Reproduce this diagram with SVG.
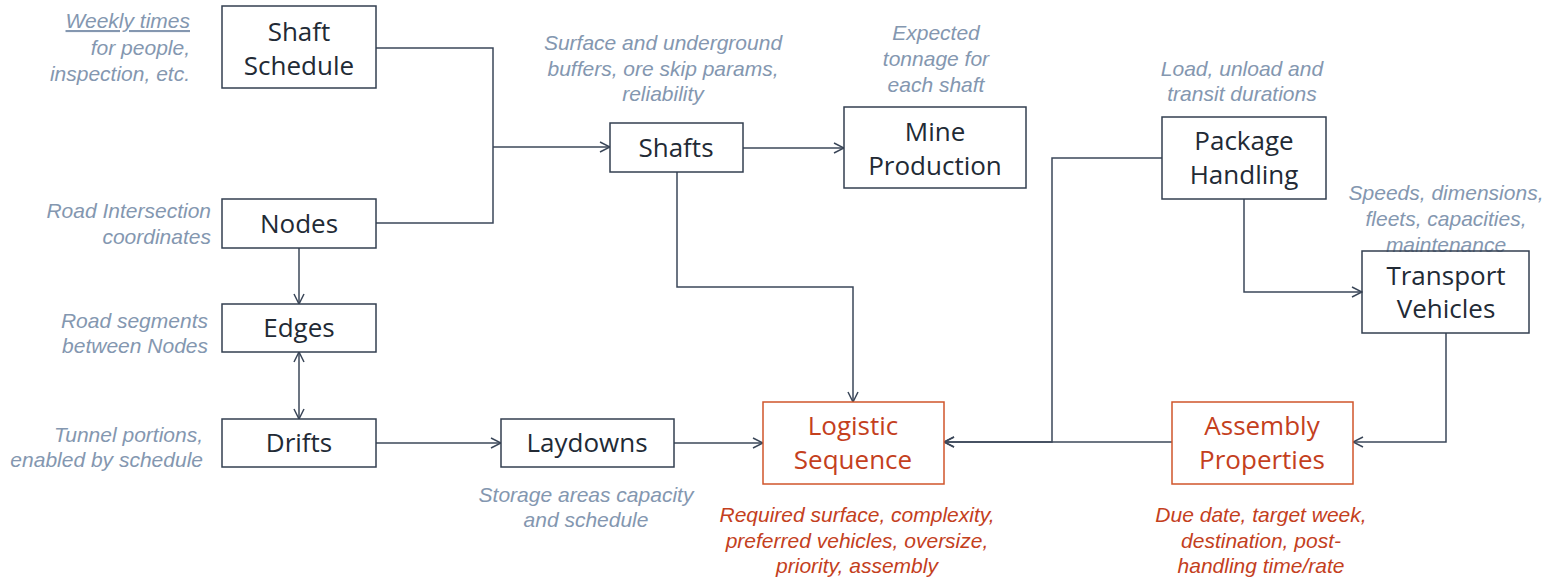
<svg xmlns="http://www.w3.org/2000/svg" width="1549" height="582" viewBox="0 0 1549 582">
  <defs>
    <style>
      .box { fill: #ffffff; stroke: #333f50; stroke-width: 1.5; }
      .box-hl { fill: #ffffff; stroke: #d0552b; stroke-width: 1.5; }
      .label { font-family: "Open Sans", "Noto Sans", sans-serif; font-size: 26px; fill: #222a35; text-anchor: middle; }
      .label-hl { font-family: "Open Sans", "Noto Sans", sans-serif; font-size: 26px; fill: #c4401d; text-anchor: middle; }
      .note { font-family: "Liberation Sans", Arial, sans-serif; font-size: 21px; font-style: italic; fill: #8497b0; }
      .note-hl { font-family: "Liberation Sans", Arial, sans-serif; font-size: 21px; font-style: italic; fill: #c4401d; text-anchor: middle; }
      .mid { text-anchor: middle; }
      .end { text-anchor: end; }
      .wire { fill: none; stroke: #3b4759; stroke-width: 1.5; }
    </style>
    <marker id="arrow" viewBox="0 0 12 12" refX="11" refY="6" markerWidth="12" markerHeight="12" markerUnits="userSpaceOnUse" orient="auto-start-reverse">
      <path d="M1,1 L11,6 L1,11" fill="none" stroke="#3b4759" stroke-width="1.5"/>
    </marker>
  </defs>

  <!-- connectors -->
  <g id="connectors">
    <path class="wire" d="M376,48 H493 V223 H376"/>
    <path class="wire" d="M493,147 H610" marker-end="url(#arrow)"/>
    <path class="wire" d="M743,148 H844" marker-end="url(#arrow)"/>
    <path class="wire" d="M677,172 V287 H853 V402" marker-end="url(#arrow)"/>
    <path class="wire" d="M299,248 V304" marker-end="url(#arrow)"/>
    <path class="wire" d="M299,352 V419" marker-start="url(#arrow)" marker-end="url(#arrow)"/>
    <path class="wire" d="M376,443 H501" marker-end="url(#arrow)"/>
    <path class="wire" d="M674,443 H763" marker-end="url(#arrow)"/>
    <path class="wire" d="M1244,199 V292 H1362" marker-end="url(#arrow)"/>
    <path class="wire" d="M1162,158 H1052 V442 H944" marker-end="url(#arrow)"/>
    <path class="wire" d="M1172,442 H944" marker-end="url(#arrow)"/>
    <path class="wire" d="M1446,333 V442 H1353" marker-end="url(#arrow)"/>
  </g>

  <!-- nodes -->
  <g id="shaft-schedule">
    <rect class="box" x="222" y="6" width="154" height="82"/>
    <text class="label" x="299" y="41">Shaft</text>
    <text class="label" x="299" y="75">Schedule</text>
    <text class="note end" x="190" y="28"><tspan text-decoration="underline">Weekly times</tspan></text>
    <text class="note end" x="190" y="55">for people,</text>
    <text class="note end" x="190" y="81">inspection, etc.</text>
  </g>

  <g id="nodes">
    <rect class="box" x="222" y="199" width="154" height="49"/>
    <text class="label" x="299" y="233">Nodes</text>
    <text class="note end" x="211" y="218">Road Intersection</text>
    <text class="note end" x="211" y="244">coordinates</text>
  </g>

  <g id="edges">
    <rect class="box" x="222" y="304" width="154" height="48"/>
    <text class="label" x="299" y="337">Edges</text>
    <text class="note end" x="208" y="328">Road segments</text>
    <text class="note end" x="208" y="353">between Nodes</text>
  </g>

  <g id="drifts">
    <rect class="box" x="222" y="419" width="154" height="48"/>
    <text class="label" x="299" y="452">Drifts</text>
    <text class="note end" x="203" y="442">Tunnel portions,</text>
    <text class="note end" x="203" y="467">enabled by schedule</text>
  </g>

  <g id="laydowns">
    <rect class="box" x="501" y="419" width="173" height="48"/>
    <text class="label" x="587" y="452">Laydowns</text>
    <text class="note mid" x="586" y="502">Storage areas capacity</text>
    <text class="note mid" x="586" y="527">and schedule</text>
  </g>

  <g id="shafts">
    <rect class="box" x="610" y="123" width="133" height="49"/>
    <text class="label" x="676" y="157">Shafts</text>
    <text class="note mid" x="663" y="50">Surface and underground</text>
    <text class="note mid" x="663" y="76">buffers, ore skip params,</text>
    <text class="note mid" x="663" y="101">reliability</text>
  </g>

  <g id="mine-production">
    <rect class="box" x="844" y="107" width="182" height="81"/>
    <text class="label" x="935" y="141">Mine</text>
    <text class="label" x="935" y="175">Production</text>
    <text class="note mid" x="936" y="40">Expected</text>
    <text class="note mid" x="936" y="66">tonnage for</text>
    <text class="note mid" x="936" y="92">each shaft</text>
  </g>

  <g id="package-handling">
    <rect class="box" x="1162" y="117" width="164" height="82"/>
    <text class="label" x="1244" y="150">Package</text>
    <text class="label" x="1244" y="184">Handling</text>
    <text class="note mid" x="1242" y="76">Load, unload and</text>
    <text class="note mid" x="1242" y="101">transit durations</text>
  </g>

  <g id="transport-vehicles">
    <text class="note mid" x="1446" y="200">Speeds, dimensions,</text>
    <text class="note mid" x="1446" y="226">fleets, capacities,</text>
    <text class="note mid" x="1446" y="252">maintenance</text>
    <rect class="box" x="1362" y="251" width="167" height="82" fill-opacity="0"/>
    <text class="label" x="1446" y="285">Transport</text>
    <text class="label" x="1446" y="318">Vehicles</text>
  </g>

  <g id="logistic-sequence">
    <rect class="box-hl" x="763" y="402" width="181" height="82"/>
    <text class="label-hl" x="853" y="435">Logistic</text>
    <text class="label-hl" x="853" y="469">Sequence</text>
    <text class="note-hl" x="857" y="522">Required surface, complexity,</text>
    <text class="note-hl" x="857" y="548">preferred vehicles, oversize,</text>
    <text class="note-hl" x="857" y="573">priority, assembly</text>
  </g>

  <g id="assembly-properties">
    <rect class="box-hl" x="1172" y="402" width="181" height="82"/>
    <text class="label-hl" x="1262" y="435">Assembly</text>
    <text class="label-hl" x="1262" y="469">Properties</text>
    <text class="note-hl" x="1261" y="522">Due date, target week,</text>
    <text class="note-hl" x="1261" y="548">destination, post-</text>
    <text class="note-hl" x="1261" y="573">handling time/rate</text>
  </g>
</svg>
